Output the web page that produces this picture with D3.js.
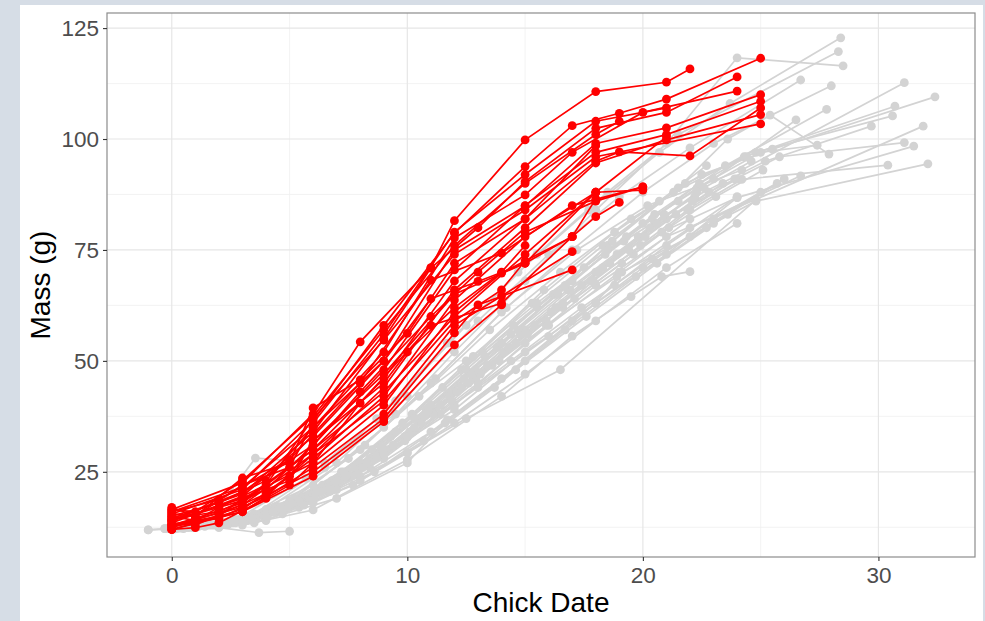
<!DOCTYPE html>
<html>
<head>
<meta charset="utf-8">
<script src="https://cdn.jsdelivr.net/npm/d3@7"></script>
<style>
  body { margin: 0; background: #d6dde6; }
  svg { display: block; font-family: "Liberation Sans", Arial, sans-serif; }
</style>
</head>
<body>
<svg id="chart" width="985" height="621"></svg>
<script>
// Axis ticks
var xTicks = [0, 10, 20, 30];
var xMinor = [5, 15, 25];
var yTicks = [25, 50, 75, 100, 125];
var yMinor = [12.5, 37.5, 62.5, 87.5, 112.5];

// Grey chicks: [day, mass] per measurement
var greyChicks = [
  [[-0.3,12.2],[2.7,14.2],[5.7,23.5],[8.7,37],[11.7,54],[14.7,70],[17.7,84],[20.7,97],[23.7,108],[28.4,122.8]],
  [[0.5,12.6],[3.5,15.5],[6.5,26],[9.5,41],[12.5,58],[15.5,74],[18.5,88],[21.5,101],[28.3,119.7]],
  [[0,12.1],[3,14.6],[6,22],[9,35],[12,52],[15,68],[18,84],[21,99],[24,118.3],[28.5,116.5]],
  [[1,12.8],[4,16.5],[7,27],[10,42],[13,59],[16,74],[19,87],[22,98],[26.7,113.3]],
  [[-1,11.9],[2,13.1],[5,18.5],[8,30],[11,45],[14,61],[17,75],[20,88],[23,99],[28,112]],
  [[2.2,13.4],[5.2,19],[8.2,31],[11.2,46],[14.2,62],[17.2,75],[20.2,85],[24.2,93],[31.1,112.7]],
  [[1.5,13],[4.5,17.2],[7.5,28],[10.5,42],[13.5,57],[16.5,70],[19.5,82],[22.5,92],[25.5,97.7],[32.4,109.5]],
  [[0.3,12.3],[3.3,14.5],[6.3,21],[9.3,33],[12.3,48],[15.3,63],[18.3,76],[21.3,88],[24.3,96],[30.7,107.4]],
  [[0.8,12.5],[3.8,15.5],[6.8,23],[9.8,36],[12.8,51],[15.8,66],[18.8,79],[21.8,90],[24.8,97],[30.6,105.2]],
  [[2.5,13.8],[5.5,19],[8.5,30],[11.5,44],[14.5,58],[17.5,71],[20.5,83],[23.5,94],[27.8,106.7]],
  [[1.2,12.8],[4.2,16],[7.2,25],[10.2,38],[13.2,52],[16.2,65],[19.2,77],[22.2,87],[25.2,95],[29.7,102.9]],
  [[3,14],[6,19],[9,28],[12,40],[15,54],[18,67],[21,78],[24.8,86.4],[31.9,102.9]],
  [[1.8,13],[4.8,17],[7.8,26],[10.8,39],[13.8,53],[16.8,66],[19.8,78],[22.8,88],[25.8,96],[31.1,99.2]],
  [[2.8,14],[5.8,19.5],[8.8,29],[11.8,42],[14.8,56],[17.8,68],[20.8,79],[24,86.8],[31.5,98.4]],
  [[0.5,12.4],[3.5,15],[6.5,22],[9.5,34],[12.5,48],[15.5,62],[18.5,76],[21.5,89],[23.6,100],[25.4,105.4],[27.9,96.6]],
  [[1.6,13],[4.6,16],[7.6,24],[10.6,36],[13.6,49],[16.6,62],[19.6,74],[22,84],[24.2,90.9],[30.4,94.1]],
  [[2.4,13.2],[5.4,17],[8.4,26],[11.4,38],[14.4,50],[17.4,62],[20.4,73],[23,81],[24.8,86],[32.1,94.4]],
  [[0.9,12.5],[3.9,15],[6.9,22],[9.9,33],[12.9,46],[15.9,58],[18.9,69],[22,80],[26.7,91.7]],
  [[2,13.5],[5,18],[8,27],[11,40],[14,54],[17,68],[20,81],[23,91],[26.5,104.3]],
  [[1.3,12.9],[4.3,16.2],[7.3,25],[10.3,37],[13.3,51],[16.3,65],[19.3,78],[22.3,89],[25,97],[27.4,98.6]],
  [[0,12.3],[3,13.8],[6,20],[9,30],[12,43],[15,57],[18,70],[21,82],[24,91]],
  [[-1,11.9],[0.5,12.2],[2,12.4],[3.7,11.3],[5,11.6]],
  [[0.2,12.2],[3,13],[6,16.4],[10,27.7],[14,42],[17,55.6],[19.5,64.5],[20.8,69],[22,70.1]],
  [[1,12.5],[4,14],[6.7,20.6],[10,29.3],[12.5,37],[16.5,48],[24.8,86.3]],
  [[0.5,12.3],[3.5,13.5],[7,19],[10,27],[11.7,36.7],[15,50],[18,63],[21,74],[24,86.8]],
  [[-0.3,12.2],[1.5,13.5],[3.55,28.1],[6.5,27],[9.5,38],[12.5,50],[15.5,63],[18.5,75],[21.5,86]],
  [[2,13],[4,15.5],[7,21],[10,33],[13,44],[16,55.5],[18.8,67.1],[21,76],[24,87]],
  [[1,12.6],[3.6,14.5],[6,19],[9,29],[12,39],[15,52],[18,63],[19.1,70],[22,78],[25,88]],
  [[0.7,12.4],[3.2,14],[5.5,18],[8,24],[11,34],[14,46],[17,59],[20,71],[23,82],[26,91]],
  [[1.7,13],[4.7,15.5],[7.7,22],[10.7,32],[13.7,44],[16.7,57],[19.7,69],[22.7,80],[25.7,90]],
  [[2.6,13.5],[5.6,17.5],[8.6,25],[11.6,36],[14.6,48],[17.6,60],[20.6,72],[23.6,83]],
  [[0.1,12.1],[2.1,13.2],[4.1,15.5],[6.1,20],[8.1,26],[10.1,34],[12.1,43],[14.1,52],[16.1,61],[18.1,70],[20.1,78],[22.1,86]],
  [[1.4,12.7],[3.4,14.4],[5.4,18.5],[7.4,24],[9.4,31],[11.4,40],[13.4,49],[15.4,58],[17.4,67],[19.4,75],[21.4,83],[23.4,90]],
  [[0.4,12.3],[2.4,13.6],[4.4,16.8],[6.4,22],[8.4,28],[10.4,37],[12.4,46],[14.4,56],[16.4,65],[18.4,74],[20.4,82],[22.4,90],[24.4,96]],
  [[1.1,12.6],[3.1,14.2],[5.1,17.8],[7.1,23],[9.1,30],[11.1,38],[13.1,47],[15.1,56],[17.1,64],[19.1,72],[21.1,80],[23.1,87],[25.1,93]],
  [[2.3,13.3],[4.3,16],[6.3,20.5],[8.3,27],[10.3,35],[12.3,44],[14.3,53],[16.3,62],[18.3,71],[20.3,80],[22.3,88]],
  [[0.6,12.4],[2.6,13.8],[4.6,17],[6.6,21.5],[8.6,28],[10.6,36],[12.6,45],[14.6,54],[16.6,63],[18.6,72],[20.6,81],[22.6,89],[24.6,95]],
  [[1.9,13],[3.9,15],[5.9,18.5],[7.9,24.5],[9.9,32],[11.9,41],[13.9,50],[15.9,59],[17.9,68],[19.9,76],[21.9,84],[23.9,91]],
  [[0.9,12.5],[2.9,14],[4.9,17],[6.9,23],[8.9,30.5],[10.9,39],[12.9,48],[14.9,57],[16.9,66],[18.9,74],[20.9,83]],
  [[2.7,13.5],[4.7,16.5],[6.7,21],[8.7,28.5],[10.7,37.5],[12.7,47],[14.7,57],[16.7,67],[18.7,77],[20.7,86],[22.7,94]],
  [[1,12.5],[4,15],[7,23],[9,29],[10,32.8],[13,45],[16,58],[19,70],[22,82]],
  [[-0.2,12.2],[3,13.5],[6,18],[8,23],[10,29.3],[12,36],[15,47],[18,59],[21,71],[24,81]]
];

// Red chicks: [day, mass] per measurement
var redChicks = [
  [[0,16.5],[3,22.5],[6,38],[8,54.3],[11,71],[12,81.6],[15,99.8],[18,110.7],[21,112.8],[22,115.8]],
  [[0,15.5],[3,21],[6,36.5],[9,58],[12,78.8],[15,93.8],[17,103],[19,105.8],[21,109],[25,118.2]],
  [[0,14.5],[3,20],[6,34],[9,55],[11,70.9],[13,80],[15,90.4],[18,102.4],[21,106],[24,114]],
  [[0,15],[2,18],[4,23],[6,35],[9,52],[12,77.7],[15,87.4],[17,97],[20,106],[24,110.8]],
  [[0,13.5],[3,19.5],[6,33],[9,50],[12,75],[15,84.9],[18,99],[21,102.5],[25,110]],
  [[0,14],[3,20.5],[6,31],[9,48],[12,70.5],[15,85],[18,97],[21,101],[25,108.5]],
  [[0,13],[1,14.5],[3,18],[6,30],[9,46],[12,68],[15,82],[18,95],[19,97.1],[22,96.2],[25,107]],
  [[0,12.5],[3,17.5],[6,29],[9,44],[12,66],[15,80],[18,94.6],[21,99.8],[25,105.5]],
  [[0,16],[2,18.7],[5,27.7],[8,45],[11,68.2],[14,74.3],[17,85],[20,89.2]],
  [[0,12],[3,16.5],[6,28],[9,42],[12,63.7],[15,78],[18,88],[20,88.5]],
  [[0,14],[3,19],[6,27],[9,40],[12,61],[14,69.8],[17,78],[18,82.5],[19,85.7]],
  [[0,12.5],[3,16],[6,26],[9,38],[12,58],[14,64.6],[17,74.6]],
  [[0,13],[3,17],[6,25],[9,37],[12,56.3],[13,62.6],[17,70.5]],
  [[0,12],[3,16],[6,24],[9,36.3],[12,53.6],[14,62.6]],
  [[0,17],[1,15],[3,23.6],[5,27],[6,39.4],[8,45.7],[10,56.2],[12,72],[15,82],[18,98.5]],
  [[0,15],[1,14],[2,17],[4,22],[6,37],[9,54.7],[12,74],[15,84],[18,96],[25,103.4]],
  [[0,13.5],[1,13],[4,20],[5,24],[6,32],[9,47],[12,65],[15,72],[17,78],[18,86.5]],
  [[0,12],[1,12.4],[2,13.5],[4,19],[5,22],[6,27],[8,40.5],[11,58],[14,63],[17,78]],
  [[0,16],[3,21.5],[6,35],[9,50],[11,64],[13,67.9],[15,72],[18,88]],
  [[0,14.5],[2,16],[4,21],[6,31],[8,43],[11,60],[13,70],[15,79],[18,86],[20,89.2]],
  [[0,15.5],[1,15],[3,22],[5,26],[6,36],[9,56],[12,79],[15,92],[18,104],[21,107]],
  [[0,13],[2,15],[3,19],[5,23],[6,32],[9,45],[10,52],[12,62],[14,70],[15,76]],
  [[0,14],[3,18.5],[6,30],[9,43],[12,60],[15,74],[18,88],[21,100.5]],
  [[0,13],[2,14.5],[4,19.5],[6,29],[9,41],[12,59],[14,66],[15,72.5]],
  [[0,16.5],[1,16],[3,23],[6,37.5],[9,57],[12,76],[15,90],[18,101],[19,104]]
];

var svg = d3.select("#chart");
var svgWidth = +svg.attr("width");
var svgHeight = +svg.attr("height");

// Outer frame: white plot area on a blue-grey page
svg.append("rect").attr("width", svgWidth).attr("height", svgHeight).attr("fill", "#d6dde6");
svg.append("rect").attr("x", 20).attr("y", 5).attr("width", 963).attr("height", 616).attr("fill", "#ffffff");

var margin = {top: 13, left: 107, bottom: 64, right: 10};
var width = svgWidth - margin.left - margin.right;
var height = svgHeight - margin.top - margin.bottom;

var xScale = d3.scaleLinear().domain([-2.75, 34.1]).range([0, width]);
var yScale = d3.scaleLinear().domain([5.8, 128.4]).range([height, 0]);

var g = svg.append("g").attr("transform", "translate(" + [margin.left, margin.top] + ")");

// Gridlines (minor then major)
g.selectAll(".xminor").data(xMinor).enter().append("line")
    .attr("x1", function(d) { return xScale(d); }).attr("x2", function(d) { return xScale(d); })
    .attr("y1", 0).attr("y2", height)
    .attr("stroke", "#f0f0f0").attr("stroke-width", 0.8);
g.selectAll(".yminor").data(yMinor).enter().append("line")
    .attr("y1", function(d) { return yScale(d); }).attr("y2", function(d) { return yScale(d); })
    .attr("x1", 0).attr("x2", width)
    .attr("stroke", "#f0f0f0").attr("stroke-width", 0.8);
g.selectAll(".xmajor").data(xTicks).enter().append("line")
    .attr("x1", function(d) { return xScale(d); }).attr("x2", function(d) { return xScale(d); })
    .attr("y1", 0).attr("y2", height)
    .attr("stroke", "#e6e6e6").attr("stroke-width", 1.2);
g.selectAll(".ymajor").data(yTicks).enter().append("line")
    .attr("y1", function(d) { return yScale(d); }).attr("y2", function(d) { return yScale(d); })
    .attr("x1", 0).attr("x2", width)
    .attr("stroke", "#e6e6e6").attr("stroke-width", 1.2);

var line = d3.line()
    .x(function(d) { return xScale(d[0]); })
    .y(function(d) { return yScale(d[1]); });

function drawChicks(chicks, colour) {
    var grp = g.append("g");
    grp.selectAll("path").data(chicks).enter().append("path")
        .attr("d", line)
        .attr("fill", "none")
        .attr("stroke", colour)
        .attr("stroke-width", 1.7);
    var pts = [];
    chicks.forEach(function(c) { c.forEach(function(p) { pts.push(p); }); });
    grp.selectAll("circle").data(pts).enter().append("circle")
        .attr("cx", function(d) { return xScale(d[0]); })
        .attr("cy", function(d) { return yScale(d[1]); })
        .attr("r", 4.4)
        .attr("fill", colour);
}

drawChicks(greyChicks, "#d3d3d3");
drawChicks(redChicks, "#ff0000");

// Panel border
g.append("rect").attr("width", width).attr("height", height)
    .attr("fill", "none").attr("stroke", "#8c8c8c").attr("stroke-width", 1.2);

// Axes
var xAxisG = g.append("g").attr("transform", "translate(0," + height + ")")
    .call(d3.axisBottom(xScale).tickValues(xTicks).tickSize(4).tickPadding(6).tickFormat(d3.format("d")));
var yAxisG = g.append("g")
    .call(d3.axisLeft(yScale).tickValues(yTicks).tickSize(4).tickPadding(4).tickFormat(d3.format("d")));

[xAxisG, yAxisG].forEach(function(ax) {
    ax.select(".domain").remove();
    ax.selectAll(".tick line").attr("stroke", "#333333").attr("stroke-width", 1.1);
    ax.selectAll(".tick text")
        .attr("fill", "#4d4d4d")
        .style("font-size", "22.5px")
        .style("font-family", "'Liberation Sans', Arial, sans-serif");
});

// Axis titles
svg.append("text")
    .attr("x", margin.left + width / 2).attr("y", 612)
    .attr("text-anchor", "middle")
    .style("font-size", "28px").attr("fill", "#000")
    .text("Chick Date");
svg.append("text")
    .attr("transform", "translate(50," + (margin.top + height / 2) + ") rotate(-90)")
    .attr("text-anchor", "middle")
    .style("font-size", "28px").attr("fill", "#000")
    .text("Mass (g)");
</script>
</body>
</html>
